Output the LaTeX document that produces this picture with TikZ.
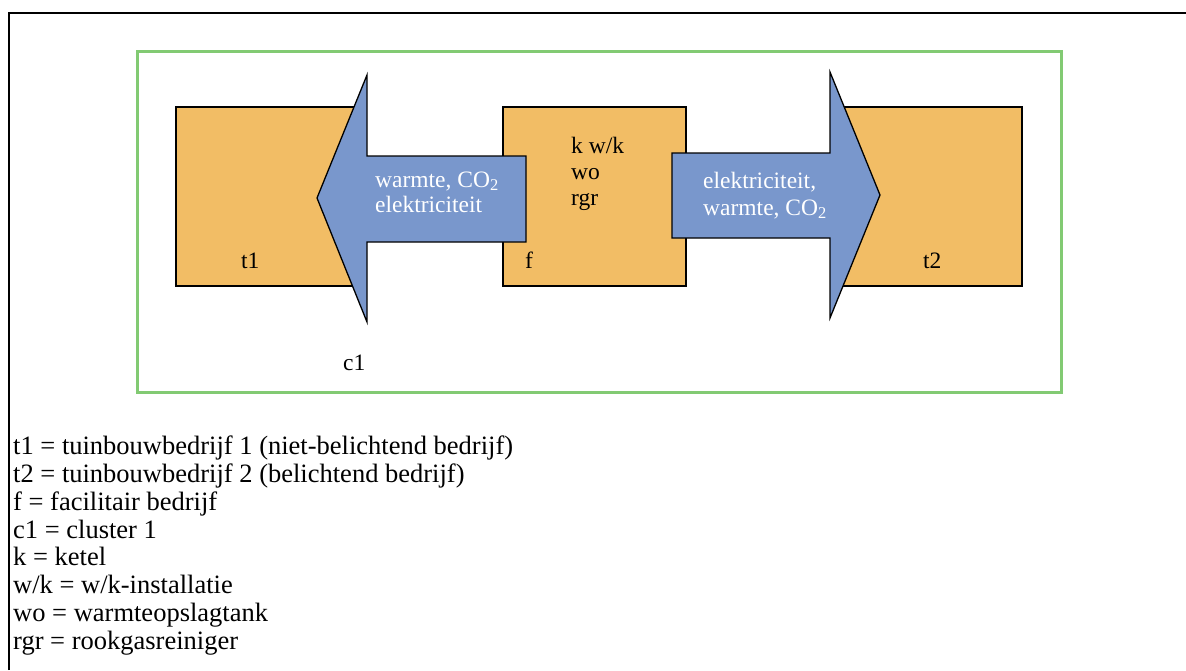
\documentclass[tikz,border=0pt]{standalone}
\usepackage{fontspec}
\setmainfont{Liberation Serif}
\definecolor{boxfill}{RGB}{242,189,101}
\definecolor{flowfill}{RGB}{121,151,204}
\definecolor{clustergreen}{RGB}{130,202,115}
\tikzset{
  company/.style={draw=black, line width=1.3pt, fill=boxfill, minimum width=#1, minimum height=179pt, inner sep=0pt, outer sep=0pt, anchor=north west},
  flow/.style={draw=black, line width=1.3pt, fill=flowfill, line join=miter},
  lbl/.style={font=\fontsize{23.5}{27.6}\selectfont, inner sep=0pt, anchor=base west, align=left},
  flowlbl/.style={lbl, text=white},
  legendtxt/.style={lbl, font=\fontsize{26.5}{27.75}\selectfont},
}
\begin{document}
\begin{tikzpicture}[x=1pt, y=-1pt]
  \useasboundingbox (0,0) rectangle (1186,670);

  % outer frame (top and left edges only)
  \draw[line width=2.6pt] (9,670) -- (9,13) -- (1186,13);

  % cluster outline
  \node[draw=clustergreen, line width=3pt, minimum width=924pt, minimum height=341pt, inner sep=0pt, outer sep=0pt, anchor=north west] (c1box) at (137.5,51) {};

  % companies
  \node[company=184pt] (t1) at (176,107) {};
  \node[company=183pt] (f) at (503,107) {};
  \node[company=184pt] (t2) at (838,107) {};

  % flow from f to t1
  \coordinate (ltip) at (317,198);
  \draw[flow] (ltip) -- (367,75) -- (367,156) -- (526,156) -- (526,242) -- (367,242) -- (367,322) -- cycle;
  % flow from f to t2
  \coordinate (rtip) at (880,195);
  \draw[flow] (672,153) -- (830,153) -- (830,72) -- (rtip) -- (830,318) -- (830,238) -- (672,238) -- cycle;

  % flow labels (anchored at the baseline of the last line)
  \node[flowlbl, font=\fontsize{23.5}{25}\selectfont] (lflow) at (375,212) {warmte, CO\textsubscript{2}\\elektriciteit};
  \node[flowlbl, font=\fontsize{23.5}{27}\selectfont] (rflow) at (703,215) {elektriciteit,\\warmte, CO\textsubscript{2}};

  % company contents and names
  \node[lbl, font=\fontsize{23.5}{26}\selectfont] (fparts) at (571,205) {k w/k\\wo\\rgr};
  \node[lbl] (t1name) at (241,268) {t1};
  \node[lbl] (fname) at (525,268) {f};
  \node[lbl] (t2name) at (923,268) {t2};
  \node[lbl] (c1name) at (343,370) {c1};

  % legend
  \node[legendtxt] (legend) at (13,649) {t1 = tuinbouwbedrijf 1 (niet-belichtend bedrijf)\\
    t2 = tuinbouwbedrijf 2 (belichtend bedrijf)\\
    f = facilitair bedrijf\\
    c1 = cluster 1\\
    k = ketel\\
    w/k = w/k-installatie\\
    wo = warmteopslagtank\\
    rgr = rookgasreiniger};
\end{tikzpicture}
\end{document}
